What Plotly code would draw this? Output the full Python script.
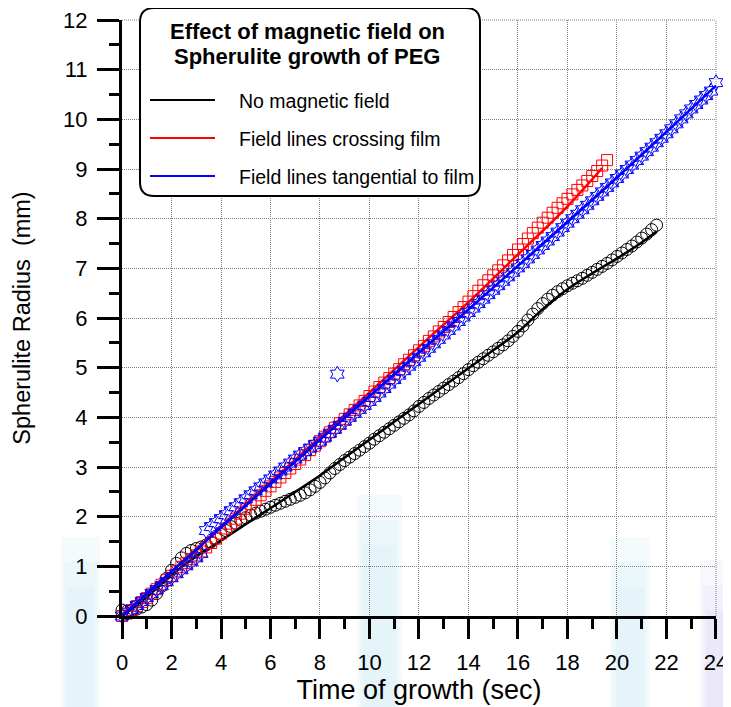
import plotly.graph_objects as go

# ---------------- data ----------------
TIME_STEP = 0.2  # sampling interval of the measurements (sec)

no_field_radius = [
    0.12, 0.10, 0.11, 0.14, 0.18, 0.23, 0.32, 0.45, 0.60, 0.76,
    0.92, 1.06, 1.17, 1.26, 1.32, 1.36, 1.39, 1.43, 1.49, 1.56,
    1.64, 1.72, 1.80, 1.87, 1.93, 1.98, 2.03, 2.07, 2.11, 2.15,
    2.19, 2.23, 2.27, 2.31, 2.35, 2.39, 2.43, 2.48, 2.54, 2.61,
    2.69, 2.78, 2.88, 2.97, 3.05, 3.13, 3.20, 3.27, 3.34, 3.41,
    3.48, 3.56, 3.63, 3.70, 3.77, 3.84, 3.91, 3.98, 4.05, 4.13,
    4.22, 4.30, 4.38, 4.45, 4.52, 4.59, 4.66, 4.73, 4.80, 4.88,
    4.96, 5.04, 5.11, 5.18, 5.25, 5.32, 5.39, 5.46, 5.54, 5.63,
    5.73, 5.84, 5.96, 6.08, 6.19, 6.29, 6.38, 6.46, 6.53, 6.59,
    6.65, 6.70, 6.75, 6.80, 6.86, 6.92, 6.98, 7.04, 7.10, 7.17,
    7.24, 7.31, 7.38, 7.45, 7.53, 7.61, 7.69, 7.78, 7.87,
]

crossing_radius = [
    0.00, 0.05, 0.12, 0.20, 0.28, 0.36, 0.45, 0.54, 0.63, 0.72,
    0.81, 0.90, 0.99, 1.07, 1.15, 1.22, 1.30, 1.38, 1.47, 1.56,
    1.66, 1.76, 1.86, 1.96, 2.06, 2.16, 2.25, 2.34, 2.43, 2.52,
    2.61, 2.70, 2.79, 2.88, 2.97, 3.06, 3.15, 3.24, 3.34, 3.43,
    3.52, 3.61, 3.70, 3.79, 3.88, 3.97, 4.06, 4.15, 4.24, 4.33,
    4.43, 4.52, 4.61, 4.70, 4.79, 4.88, 4.97, 5.07, 5.16, 5.25,
    5.35, 5.44, 5.54, 5.63, 5.73, 5.82, 5.92, 6.02, 6.12, 6.22,
    6.33, 6.44, 6.55, 6.66, 6.76, 6.86, 6.96, 7.06, 7.16, 7.27,
    7.38, 7.49, 7.60, 7.71, 7.82, 7.92, 8.02, 8.12, 8.22, 8.31,
    8.40, 8.49, 8.58, 8.67, 8.76, 8.86, 8.96, 9.07, 9.18,
]

tangential_radius = [
    0.00, 0.06, 0.13, 0.21, 0.29, 0.37, 0.45, 0.53, 0.61, 0.69,
    0.77, 0.85, 0.93, 1.01, 1.09, 1.17, 1.26, 1.72, 1.80, 1.88,
    1.96, 2.04, 2.12, 2.20, 2.28, 2.36, 2.44, 2.52, 2.60, 2.68,
    2.76, 2.84, 2.92, 3.00, 3.08, 3.16, 3.24, 3.31, 3.38, 3.45,
    3.52, 3.60, 3.68, 3.76, 3.84, 3.92, 4.00, 4.08, 4.16, 4.24,
    4.32, 4.40, 4.49, 4.58, 4.67, 4.76, 4.85, 4.94, 5.03, 5.12,
    5.21, 5.30, 5.39, 5.48, 5.57, 5.66, 5.75, 5.84, 5.93, 6.02,
    6.11, 6.20, 6.29, 6.38, 6.47, 6.56, 6.65, 6.74, 6.83, 6.92,
    7.01, 7.10, 7.19, 7.28, 7.37, 7.46, 7.55, 7.64, 7.73, 7.82,
    7.91, 8.00, 8.09, 8.18, 8.27, 8.36, 8.45, 8.54, 8.63, 8.72,
    8.81, 8.90, 8.99, 9.08, 9.17, 9.26, 9.35, 9.44, 9.53, 9.62,
    9.71, 9.81, 9.91, 10.01, 10.11, 10.21, 10.30, 10.39, 10.48, 10.57,
    10.74,
]
tangential_outlier_time = [8.7]
tangential_outlier_radius = [4.87]

# smoothed curves drawn through each data set
no_field_fit_time = [0, 0.5, 1, 1.5, 2, 2.5, 3, 3.5, 4, 5, 6, 7, 8, 9, 10, 11, 12,
                     13, 14, 15, 16, 17, 18, 19, 20, 21, 21.6]
no_field_fit_radius = [0.0, 0.18, 0.38, 0.6, 0.82, 1.02, 1.2, 1.36, 1.52, 1.85, 2.17,
                       2.5, 2.83, 3.19, 3.55, 3.91, 4.27, 4.63, 4.99, 5.35, 5.72,
                       6.18, 6.58, 6.9, 7.2, 7.52, 7.74]
crossing_fit_time = [0, 2, 4, 6, 8, 10, 12, 14, 16, 18, 19.4]
crossing_fit_radius = [0.02, 0.9, 1.8, 2.7, 3.6, 4.5, 5.42, 6.32, 7.28, 8.25, 9.02]
tangential_fit_time = [0, 4, 8, 12, 16, 20, 24]
tangential_fit_radius = [0.0, 1.78, 3.55, 5.3, 7.05, 8.83, 10.68]

series_names = ["No magnetic field", "Field lines crossing film",
                "Field lines tangential to film"]
series_colors = ["#000000", "#ff0000", "#0000ff"]
legend_title = ["Effect of magnetic field on", "Spherulite growth of PEG"]

x_tick_vals = list(range(0, 25, 2))
y_tick_vals = list(range(0, 13, 1))
X_MAX, Y_MAX = 24, 12


def times(values):
    return [round(i * TIME_STEP, 2) for i in range(len(values))]


FONT = "Liberation Sans, Arial, sans-serif"

fig = go.Figure()

# black
fig.add_trace(go.Scatter(x=times(no_field_radius), y=no_field_radius, mode="markers",
                         marker=dict(symbol="circle-open", size=12, color=series_colors[0],
                                     line=dict(width=1)),
                         cliponaxis=False, showlegend=False))
fig.add_trace(go.Scatter(x=no_field_fit_time, y=no_field_fit_radius, mode="lines",
                         line=dict(color=series_colors[0], width=2.5, shape="spline"),
                         name=series_names[0], cliponaxis=False, showlegend=False))
# red
fig.add_trace(go.Scatter(x=times(crossing_radius), y=crossing_radius, mode="markers",
                         marker=dict(symbol="square-open", size=11, color=series_colors[1],
                                     line=dict(width=1)),
                         cliponaxis=False, showlegend=False))
fig.add_trace(go.Scatter(x=crossing_fit_time, y=crossing_fit_radius, mode="lines",
                         line=dict(color=series_colors[1], width=2.5, shape="spline"),
                         name=series_names[1], cliponaxis=False, showlegend=False))
# blue
fig.add_trace(go.Scatter(x=times(tangential_radius) + tangential_outlier_time,
                         y=tangential_radius + tangential_outlier_radius, mode="markers",
                         marker=dict(symbol="hexagram-open", size=12, color=series_colors[2],
                                     line=dict(width=1)),
                         cliponaxis=False, showlegend=False))
fig.add_trace(go.Scatter(x=tangential_fit_time, y=tangential_fit_radius, mode="lines",
                         line=dict(color=series_colors[2], width=2.5, shape="spline"),
                         name=series_names[2], cliponaxis=False, showlegend=False))

# ---------------- layout ----------------
OFF = 8                       # the page places the figure 8 px from the top-left
PAGE_W, PAGE_H = 731, 707
W, H = PAGE_W - OFF, PAGE_H - OFF
L, R, T, B = 122, 716, 20, 616  # plot area in page pixels


def px(xp):
    return (xp - L) / (R - L)


def py(yp):
    return (B - yp) / (B - T)


shapes = []

# faint watermark bands in the background (stacked for a soft fade)
for (xa, xb, ytop, rgb) in [(61, 100, 537, "170,225,240"),
                            (357, 402, 495, "170,225,240"),
                            (610, 650, 537, "170,225,240"),
                            (700, 731, 560, "200,190,240")]:
    for k in range(3):
        shapes.append(dict(type="rect", xref="paper", yref="paper", layer="below",
                           x0=px(xa + 3 * k), x1=px(xb - 3 * k),
                           y0=py(ytop + 25 * k), y1=py(PAGE_H),
                           fillcolor=f"rgba({rgb},0.12)", line=dict(width=0)))

GRID = dict(color="#808080", width=1, dash="1px,1px")
# grid lines along the top and right edges of the plot area
shapes.append(dict(type="line", xref="paper", yref="paper", layer="below",
                   x0=0, x1=1, y0=1, y1=1, line=GRID))
shapes.append(dict(type="line", xref="paper", yref="paper", layer="below",
                   x0=1, x1=1, y0=0, y1=1, line=GRID))

# legend box with rounded corners
bx0, bx1, by0, by1, r = 140, 480, 8, 196, 14
pts = lambda a, b: f"{px(a):.5f},{py(b):.5f}"
path = (f"M {pts(bx0 + r, by0)} L {pts(bx1 - r, by0)} Q {pts(bx1, by0)} {pts(bx1, by0 + r)} "
        f"L {pts(bx1, by1 - r)} Q {pts(bx1, by1)} {pts(bx1 - r, by1)} "
        f"L {pts(bx0 + r, by1)} Q {pts(bx0, by1)} {pts(bx0, by1 - r)} "
        f"L {pts(bx0, by0 + r)} Q {pts(bx0, by0)} {pts(bx0 + r, by0)} Z")
shapes.append(dict(type="path", xref="paper", yref="paper", path=path, layer="above",
                   fillcolor="white", line=dict(color="black", width=2)))

annotations = []
for txt, yy in zip(legend_title, [32, 56]):
    annotations.append(dict(text="<b>" + txt + "</b>", xref="paper", yref="paper",
                            x=px(307), y=py(yy), xanchor="center", yanchor="middle",
                            showarrow=False, font=dict(family=FONT, size=22, color="black")))
for i, (name, col) in enumerate(zip(series_names, series_colors)):
    yy = [100, 138, 176][i]
    shapes.append(dict(type="line", xref="paper", yref="paper", layer="above",
                       x0=px(150), x1=px(215), y0=py(yy), y1=py(yy),
                       line=dict(color=col, width=2)))
    annotations.append(dict(text=name, xref="paper", yref="paper",
                            x=px(237), y=py(yy + 1), xanchor="left", yanchor="middle",
                            showarrow=False, font=dict(family=FONT, size=19.5, color="black")))

axis_common = dict(showline=True, linecolor="black", linewidth=3, ticks="outside",
                   tickcolor="black", tickwidth=3, showgrid=True, gridcolor="#808080",
                   gridwidth=1, griddash="1px,1px", zeroline=False, automargin=False,
                   ticklabeloverflow="allow",
                   tickfont=dict(family=FONT, size=22, color="black"))

fig.update_layout(
    width=W, height=H,
    margin=dict(l=L - OFF, r=PAGE_W - R, t=T - OFF, b=PAGE_H - B),
    paper_bgcolor="white", plot_bgcolor="rgba(0,0,0,0)",
    showlegend=False,
    xaxis=dict(range=[0, X_MAX + 0.001], tickvals=x_tick_vals, ticklen=20,
               ticklabelstandoff=5,
               minor=dict(dtick=1, ticklen=10, tickwidth=3, tickcolor="black",
                          ticks="outside", showgrid=False),
               title=dict(text="Time of growth (sec)", standoff=2,
                          font=dict(family=FONT, size=27, color="black")),
               **axis_common),
    yaxis=dict(range=[0, Y_MAX + 0.001], tickvals=y_tick_vals, ticklen=22,
               ticklabelstandoff=5,
               minor=dict(dtick=0.5, ticklen=10, tickwidth=3, tickcolor="black",
                          ticks="outside", showgrid=False),
               title=dict(text="Spherulite Radius \u00a0(mm)", standoff=26,
                          font=dict(family=FONT, size=23.5, color="black")),
               **axis_common),
    shapes=shapes,
    annotations=annotations,
)

fig.write_html("out.html")
